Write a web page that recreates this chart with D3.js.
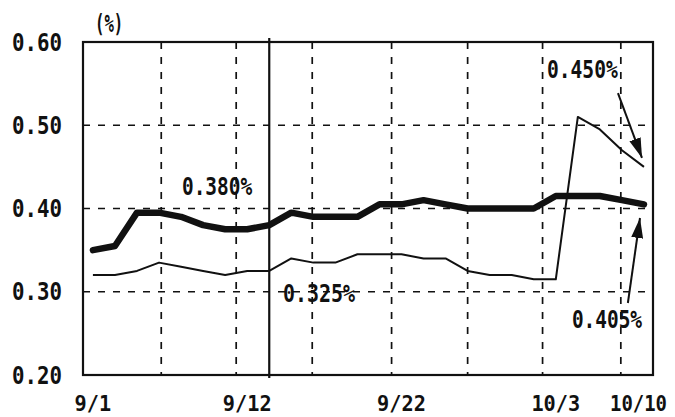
<!DOCTYPE html>
<html>
<head>
<meta charset="utf-8">
<script src="https://cdn.jsdelivr.net/npm/d3@7"></script>
<style>
  html, body { margin: 0; padding: 0; background: #fff; }
  svg { display: block; }
  text { font-family: "DejaVu Sans Mono", "Liberation Mono", monospace; font-weight: bold; fill: #111; }
</style>
</head>
<body>
<svg id="chart" width="675" height="417"></svg>
<script>
// ---- data ----
const dayIndex = [0,1,2,3,4,5,6,7,8,9,10,11,12,13,14,15,16,17,18,19,20,21,22,23,24,25];
const thickSeries = [0.350,0.355,0.395,0.395,0.390,0.380,0.375,0.375,0.380,
                     0.395,0.390,0.390,0.390,0.405,0.405,0.410,0.405,0.400,
                     0.400,0.400,0.400,0.415,0.415,0.415,0.410,0.405];
const thinSeries  = [0.320,0.320,0.325,0.335,0.330,0.325,0.320,0.325,0.325,
                     0.340,0.335,0.335,0.345,0.345,0.345,0.340,0.340,0.325,
                     0.320,0.320,0.315,0.315,0.510,0.495,0.470,0.450];
const xTickLabels = ["9/1","9/12","9/22","10/3","10/10"];
const xTickIndex  = [0, 7, 14, 21, 25];
const yTicks      = [0.20, 0.30, 0.40, 0.50, 0.60];
const yTickLabels = ["0.20","0.30","0.40","0.50","0.60"];
const vGridIndex  = [3.1, 6.5, 9.95, 13.55, 17.0, 20.4, 23.95];
const markerIndex = 8;
const annotations = ["0.380%","0.325%","0.450%","0.405%"];

// ---- layout ----
const svg = d3.select("#chart");
const L = 83, R = 653, T = 42, B = 375;
const x = d3.scaleLinear().domain([-0.45, 25.41]).range([L, R]);
const y = d3.scaleLinear().domain([0.2, 0.6]).range([B, T]);
const charW = 12.2;

function label(sel, str, px, py, anchor, w, size) {
  const cw = w || charW;
  const len = str.length * cw;
  let sx = px;
  if (anchor === "middle") sx = px - len / 2;
  if (anchor === "end") sx = px - len;
  return sel.append("text")
    .attr("x", sx).attr("y", py)
    .attr("font-size", size || 25)
    .attr("textLength", len)
    .attr("lengthAdjust", "spacingAndGlyphs")
    .text(str);
}

// grid
const grid = svg.append("g").attr("stroke", "#111").attr("stroke-width", 1.7)
  .attr("stroke-dasharray", "7,8").attr("fill", "none");
[0.30, 0.40, 0.50].forEach(v => {
  grid.append("line").attr("x1", L).attr("x2", R).attr("y1", y(v)).attr("y2", y(v));
});
vGridIndex.forEach(i => {
  grid.append("line").attr("x1", x(i)).attr("x2", x(i)).attr("y1", T).attr("y2", B);
});

// solid marker line
svg.append("line").attr("x1", x(markerIndex)).attr("x2", x(markerIndex))
  .attr("y1", T - 4).attr("y2", B + 3).attr("stroke", "#111").attr("stroke-width", 2.2);

// frame
svg.append("rect").attr("x", L).attr("y", T).attr("width", R - L).attr("height", B - T)
  .attr("fill", "none").attr("stroke", "#111").attr("stroke-width", 2.2);

// lines
const line = d3.line().x((d, k) => x(dayIndex[k])).y(d => y(d));
svg.append("path").datum(thinSeries).attr("d", line)
  .attr("fill", "none").attr("stroke", "#111").attr("stroke-width", 2)
  .attr("stroke-linejoin", "round");
svg.append("path").datum(thickSeries).attr("d", line)
  .attr("fill", "none").attr("stroke", "#111").attr("stroke-width", 6.5)
  .attr("stroke-linejoin", "round").attr("stroke-linecap", "round");

// y labels
yTicks.forEach((v, k) => label(svg, yTickLabels[k], 62, y(v) + 8.5, "end", 12.5));
label(svg, "(%)", 95, 32, "start", 9.4, 25);

// x labels
xTickIndex.forEach((i, k) => {
  const s = xTickLabels[k];
  const w = s.length > 4 ? 11.4 : 12.2;
  const cx = s.length > 4 ? Math.min(x(i), 667 - s.length * w / 2) : x(i);
  label(svg, s, cx, 411, "middle", w, 22);
});

// annotations
label(svg, annotations[0], x(4.04), y(0.4162), "start", 11.7);
label(svg, annotations[1], x(8.62), y(0.2877), "start", 12.0);
label(svg, annotations[2], x(20.6), y(0.5568), "start", 11.8);
label(svg, annotations[3], x(21.73), y(0.2565), "start", 11.7);

// arrows
const defs = svg.append("defs");
defs.append("marker").attr("id", "ah").attr("markerUnits", "userSpaceOnUse")
  .attr("viewBox", "0 0 20 12").attr("refX", 20).attr("refY", 6)
  .attr("markerWidth", 20).attr("markerHeight", 12).attr("orient", "auto")
  .append("path").attr("d", "M0,0 L20,6 L0,12 Z").attr("fill", "#111");
function arrow(i1, v1, i2, v2) {
  svg.append("line").attr("x1", x(i1)).attr("y1", y(v1)).attr("x2", x(i2)).attr("y2", y(v2))
    .attr("stroke", "#111").attr("stroke-width", 2).attr("marker-end", "url(#ah)");
}
arrow(23.82, 0.5387, 24.91, 0.4607);
arrow(24.27, 0.2865, 24.82, 0.3886);
</script>
</body>
</html>
